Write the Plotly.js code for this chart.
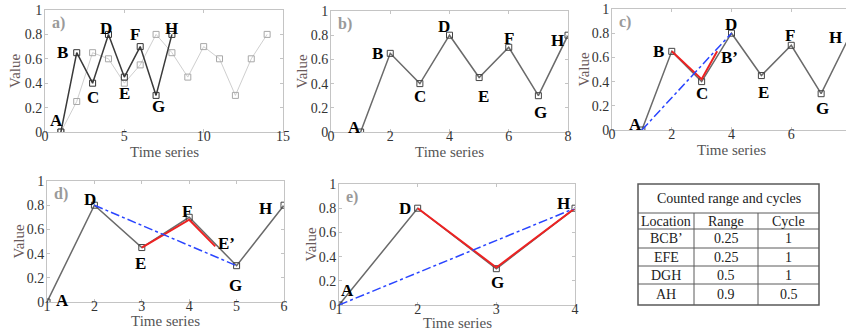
<!DOCTYPE html>
<html><head><meta charset="utf-8">
<script src="https://cdn.plot.ly/plotly-3.0.1.min.js"></script>
<style>html,body{margin:0;padding:0;overflow:hidden;background:#fff}#chart{width:860px;height:332px}</style>
</head><body><div id="chart"></div>
<script>
// ---------- data ----------
const seriesX = [1,2,3,4,5,6,7,8];
const seriesY = [0,0.65,0.4,0.8,0.45,0.7,0.3,0.8];
const seriesLabels = ['A','B','C','D','E','F','G','H'];
const rawX = [1,2,3,4,5,6,7,8,9,10,11,12,13,14];
const rawY = [0,0.25,0.65,0.6,0.4,0.55,0.8,0.65,0.45,0.7,0.6,0.3,0.6,0.8];
// panel c
const cRedX = [2,3,3.52]; const cRedY = [0.65,0.42,0.65];
const cBlueX = [1,4]; const cBlueY = [0,0.8];
const cExtraLabel = {x:3.52, y:0.65, t:"B’"};
// panel d
const dX = [1,2,3,4,5,6]; const dY = [0,0.8,0.45,0.7,0.3,0.8];
const dLabels = ['A','D','E','F','G','H'];
const dRedX = [3,4,4.55]; const dRedY = [0.45,0.68,0.46];
const dBlueX = [2,5]; const dBlueY = [0.8,0.3];
const dExtraLabel = {x:4.55, y:0.46, t:"E’"};
// panel e
const eX = [1,2,3,4]; const eY = [0,0.8,0.3,0.8];
const eLabels = ['A','D','G','H'];
const eRedX = [2,3,4]; const eRedY = [0.8,0.31,0.8];
const eBlueX = [1,4]; const eBlueY = [0,0.8];
// table
const tableTitle = 'Counted range and cycles';
const tableHeader = ['Location','Range','Cycle'];
const tableLocation = ["BCB’",'EFE','DGH','AH'];
const tableRange = ['0.25','0.25','0.5','0.9'];
const tableCycle = ['1','1','1','0.5'];
const xTitle = 'Time series', yTitle = 'Value';

// ---------- layout helpers ----------
const W = 860, H = 332;
const fx = p => p / W;
const fy = p => (H - p) / H;
const SERIF = 'Liberation Serif';
const DARK = '#3a3a3a', GRAY = '#6a6a6a', RED = '#ee2222', BLUE = '#2a45ff';

function xa(domPx, range, dtick, anchor) {
  return {domain:[fx(domPx[0]), fx(domPx[1])], range:range, dtick:dtick, tick0:0, anchor:anchor,
    showgrid:false, zeroline:false, showline:true, mirror:'allticks', linecolor:'#c4c4c4', linewidth:1,
    ticks:'inside', ticklen:3, tickcolor:'#c4c4c4', tickfont:{family:SERIF, size:14, color:'#333'},
    ticklabelstandoff:-9, automargin:false, fixedrange:true};
}
function ya(domPx, anchor) {
  return {domain:[fy(domPx[1]), fy(domPx[0])], range:[0,1], dtick:0.2, anchor:anchor,
    showgrid:false, zeroline:false, showline:true, mirror:'allticks', linecolor:'#c4c4c4', linewidth:1,
    ticks:'inside', ticklen:3, tickcolor:'#c4c4c4', tickfont:{family:SERIF, size:14, color:'#333'},
    ticklabelstandoff:-1, tickformat:'~g', automargin:false, fixedrange:true};
}

const traces = [];
const ann = [];
const shapes = [];
function line(xk, yk, X, Y, color, width, dash, marker) {
  const t = {type:'scatter', mode: marker ? 'lines+markers' : 'lines', x:X, y:Y, xaxis:xk, yaxis:yk,
    line:{color:color, width:width, dash:dash||'solid'}, hoverinfo:'skip', showlegend:false};
  if (marker) t.marker = {symbol:'square-open', size:6, color:marker, line:{width:1, color:marker}};
  traces.push(t);
}
function label(xk, yk, x, y, t, dx, dy) {
  ann.push({xref:xk, yref:yk, x:x, y:y, text:t, showarrow:false, xshift:dx, yshift:dy,
    font:{family:SERIF, size:17, color:'#000', weight:'bold'}, xanchor:'center', yanchor:'middle'});
}
function panelDecor(xk, yk, t, xTitleY, yTitleX) {
  ann.push({xref:xk + ' domain', yref:yk + ' domain', x:0.02, y:0.98, text:t, showarrow:false,
    xanchor:'left', yanchor:'top', font:{family:SERIF, size:16, color:'#9a9a9a', weight:'bold'}});
  ann.push({xref:xk + ' domain', yref:'paper', x:0.5, y:fy(xTitleY), text:xTitle, showarrow:false,
    xanchor:'center', yanchor:'middle', font:{family:SERIF, size:15, color:'#555'}});
  ann.push({xref:'paper', yref:yk + ' domain', x:fx(yTitleX), y:0.5, text:yTitle, showarrow:false, textangle:-90,
    xanchor:'center', yanchor:'middle', font:{family:SERIF, size:15, color:'#6a5a5a'}});
}

// panel a
line('x','y', rawX, rawY, '#cfcfcf', 1, 'solid', '#a8a8a8');
line('x','y', seriesX, seriesY, DARK, 1.5, 'solid', '#333');
const aOff = [[-4,12],[-14,0],[0,-14],[-2,6],[0,-16],[-5,12],[2,-11],[0,6]];
seriesLabels.forEach((t,i)=>label('x','y',seriesX[i],seriesY[i],t,aOff[i][0],aOff[i][1]));
panelDecor('x','y','a)', 152, 15);

// panel b
line('x2','y2', seriesX, seriesY, GRAY, 1.5, 'solid', '#444');
const bOff = [[-6,5],[-13,0],[0,-13],[-6,9],[4,-19],[0,9],[2,-17],[-11,-5]];
seriesLabels.forEach((t,i)=>label('x2','y2',seriesX[i],seriesY[i],t,bOff[i][0],bOff[i][1]));
panelDecor('x2','y2','b)', 152, 302);

// panel c
line('x3','y3', seriesX, seriesY, GRAY, 1.5, 'solid', '#444');
line('x3','y3', cRedX, cRedY, RED, 2);
line('x3','y3', cBlueX, cBlueY, BLUE, 1.5, 'dashdot');
const cOff = [[-6,6],[-13,0],[0,-12],[-1,9],[2,-17],[-1,10],[1,-15],[-16,-4]];
seriesLabels.forEach((t,i)=>label('x3','y3',seriesX[i],seriesY[i],t,cOff[i][0],cOff[i][1]));
label('x3','y3',cExtraLabel.x,cExtraLabel.y,cExtraLabel.t,12,-6);
panelDecor('x3','y3','c)', 150, 583);

// panel d
line('x4','y4', dX, dY, GRAY, 1.5, 'solid', '#444');
line('x4','y4', dRedX, dRedY, RED, 2);
line('x4','y4', dBlueX, dBlueY, BLUE, 1.5, 'dashdot');
const dOff = [[15,2],[-4,6],[-1,-16],[-2,6],[-1,-20],[-19,-3]];
dLabels.forEach((t,i)=>label('x4','y4',dX[i],dY[i],t,dOff[i][0],dOff[i][1]));
label('x4','y4',dExtraLabel.x,dExtraLabel.y,dExtraLabel.t,11,3);
panelDecor('x4','y4','d)', 321, 18);

// panel e
line('x5','y5', eX, eY, GRAY, 1.5, 'solid', '#444');
line('x5','y5', eRedX, eRedY, RED, 2);
line('x5','y5', eBlueX, eBlueY, BLUE, 1.5, 'dashdot');
const eOff = [[8,15],[-13,0],[1,-14],[-12,5]];
eLabels.forEach((t,i)=>label('x5','y5',eX[i],eY[i],t,eOff[i][0],eOff[i][1]));
panelDecor('x5','y5','e)', 323, 310);

// table (drawn with paper-referenced shapes and text)
const colEdges = [638, 694, 758, 819];
const rowEdges = [184, 213, 229, 248, 266, 284, 305];
const TC = '#5a5a5a';
shapes.push({type:'rect', xref:'paper', yref:'paper', x0:fx(colEdges[0]), x1:fx(colEdges[3]),
  y0:fy(rowEdges[6]), y1:fy(rowEdges[0]), line:{color:TC, width:1.5}, fillcolor:'rgba(0,0,0,0)'});
for (let r = 1; r < rowEdges.length - 1; r++)
  shapes.push({type:'line', xref:'paper', yref:'paper', x0:fx(colEdges[0]), x1:fx(colEdges[3]),
    y0:fy(rowEdges[r]), y1:fy(rowEdges[r]), line:{color:TC, width:1}});
for (let c = 1; c < colEdges.length - 1; c++)
  shapes.push({type:'line', xref:'paper', yref:'paper', x0:fx(colEdges[c]), x1:fx(colEdges[c]),
    y0:fy(rowEdges[6]), y1:fy(rowEdges[1]), line:{color:TC, width:1}});
function cellText(t, c0, c1, r) {
  ann.push({xref:'paper', yref:'paper', x:fx((colEdges[c0]+colEdges[c1])/2), y:fy((rowEdges[r]+rowEdges[r+1])/2),
    text:t, showarrow:false, xanchor:'center', yanchor:'middle', font:{family:SERIF, size:14, color:'#222'}});
}
cellText(tableTitle, 0, 3, 0);
tableHeader.forEach((t,c)=>cellText(t, c, c+1, 1));
const tableCols = [tableLocation, tableRange, tableCycle];
tableCols.forEach((col,c)=>col.forEach((t,r)=>cellText(t, c, c+1, r+2)));

const layout = {
  width:W, height:H, margin:{l:0,r:0,t:0,b:0}, paper_bgcolor:'#fff', plot_bgcolor:'#fff', showlegend:false,
  xaxis: xa([45,283],[0,15],5,'y'),   yaxis: ya([10,132],'x'),
  xaxis2: xa([331,568],[0,8],2,'y2'), yaxis2: ya([11,132],'x2'),
  xaxis3: xa([612,851],[0,8],2,'y3'), yaxis3: ya([9,130],'x3'),
  xaxis4: xa([47,284],[1,6],1,'y4'),  yaxis4: ya([181,302],'x4'),
  xaxis5: xa([339,575],[1,4],1,'y5'), yaxis5: ya([184,305],'x5'),
  annotations: ann, shapes: shapes
};
Plotly.newPlot('chart', traces, layout, {staticPlot:true, displayModeBar:false});
</script></body></html>
